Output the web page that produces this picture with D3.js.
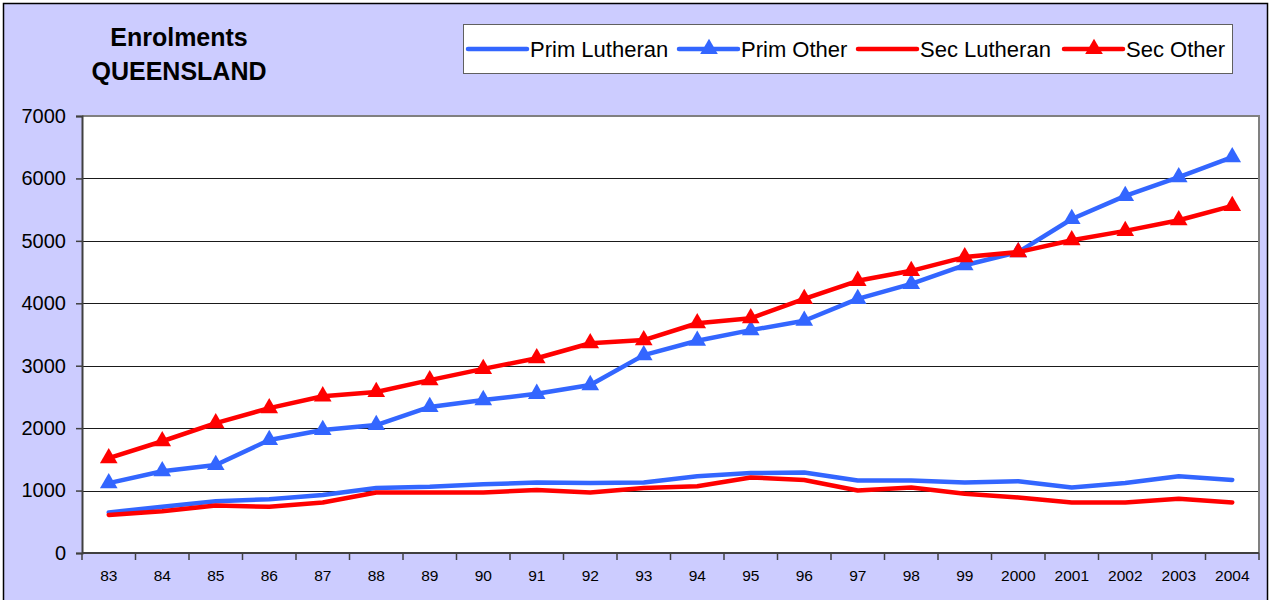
<!DOCTYPE html>
<html>
<head>
<meta charset="utf-8">
<script src="https://cdn.jsdelivr.net/npm/d3@7"></script>
<style>
  body { margin: 0; background: #fff; }
  svg text { font-family: "Liberation Sans", Arial, sans-serif; fill: #000; }
</style>
</head>
<body>
<svg id="chart" width="1270" height="600"></svg>
<script>
// enrolment data
const years = ["83", "84", "85", "86", "87", "88", "89", "90", "91", "92", "93",
               "94", "95", "96", "97", "98", "99", "2000", "2001", "2002", "2003", "2004"];
const primLutheran = [650, 740, 830, 860, 930, 1040, 1060, 1100, 1130, 1120, 1130,
                      1230, 1280, 1290, 1160, 1160, 1130, 1150, 1050, 1120, 1230, 1170];
const primOther = [1120, 1310, 1410, 1810, 1970, 2050, 2340, 2450, 2550, 2690, 3170,
                   3400, 3570, 3720, 4070, 4310, 4610, 4820, 5350, 5720, 6020, 6340];
const secLutheran = [610, 670, 760, 740, 810, 970, 970, 970, 1010, 970, 1040,
                     1070, 1210, 1170, 1000, 1050, 950, 890, 810, 810, 870, 810];
const secOther = [1520, 1790, 2080, 2320, 2510, 2580, 2770, 2950, 3120, 3360, 3410,
                  3680, 3760, 4070, 4360, 4520, 4740, 4820, 5010, 5160, 5330, 5560];
const yTicks = [0, 1000, 2000, 3000, 4000, 5000, 6000, 7000];
const titleLines = ["Enrolments", "QUEENSLAND"];

const BLUE = "#3366FF", RED = "#FF0000";

const seriesList = [
  { name: "Prim Lutheran", values: primLutheran, color: BLUE, marker: false },
  { name: "Prim Other", values: primOther, color: BLUE, marker: true },
  { name: "Sec Lutheran", values: secLutheran, color: RED, marker: false },
  { name: "Sec Other", values: secOther, color: RED, marker: true }
];

const svg = d3.select("#chart");

// chart background + outer border
svg.append("rect")
  .attr("x", 3.5).attr("y", 3.5)
  .attr("width", 1264).attr("height", 640)
  .attr("fill", "#CCCCFF")
  .attr("stroke", "#000")
  .attr("stroke-width", 1.5);

const plot = { left: 82, right: 1259, top: 116, bottom: 553 };

const x = d3.scaleBand().domain(years).range([plot.left, plot.right]).padding(0);
const y = d3.scaleLinear().domain([0, 7000]).range([plot.bottom, plot.top]);
const cx = d => x(d) + x.bandwidth() / 2;

// plot area
svg.append("rect")
  .attr("x", plot.left).attr("y", plot.top)
  .attr("width", plot.right - plot.left).attr("height", plot.bottom - plot.top)
  .attr("fill", "#fff");

// gridlines
svg.append("g")
  .selectAll("line")
  .data(yTicks.filter(t => t > 0 && t < 7000))
  .join("line")
  .attr("x1", plot.left).attr("x2", plot.right)
  .attr("y1", d => Math.round(y(d)) + 0.5).attr("y2", d => Math.round(y(d)) + 0.5)
  .attr("stroke", "#1a1a1a")
  .attr("stroke-width", 1);

// top/right frame (grey)
svg.append("path")
  .attr("d", `M${plot.left},${plot.top} H${plot.right} V${plot.bottom}`)
  .attr("fill", "none")
  .attr("stroke", "#808080")
  .attr("stroke-width", 2);

// y axis
const yAxis = svg.append("g")
  .attr("transform", `translate(${plot.left},0)`)
  .call(d3.axisLeft(y).tickValues(yTicks).tickSize(6).tickPadding(10).tickFormat(d3.format("d")));
yAxis.select(".domain").attr("stroke", "#404040").attr("stroke-width", 2);
yAxis.selectAll(".tick line").attr("stroke", "#404040").attr("stroke-width", 1.5);
yAxis.selectAll(".tick text")
  .style("font-size", "20px")
  .style("font-family", "'Liberation Sans', Arial, sans-serif")
  .attr("fill", "#000");

// x axis: labels centred, ticks between categories
const xAxis = svg.append("g")
  .attr("transform", `translate(0,${plot.bottom})`)
  .call(d3.axisBottom(x).tickSize(0).tickPadding(17));
xAxis.select(".domain").remove();
xAxis.selectAll(".tick text")
  .style("font-size", "15.5px")
  .style("font-family", "'Liberation Sans', Arial, sans-serif")
  .attr("fill", "#000");

svg.append("line")
  .attr("x1", plot.left).attr("x2", plot.right)
  .attr("y1", plot.bottom).attr("y2", plot.bottom)
  .attr("stroke", "#404040").attr("stroke-width", 2);

svg.append("g")
  .selectAll("line")
  .data(years.map(d => x(d)).concat([plot.right]))
  .join("line")
  .attr("x1", d => d).attr("x2", d => d)
  .attr("y1", plot.bottom).attr("y2", plot.bottom + 7)
  .attr("stroke", "#404040").attr("stroke-width", 1.5);

// series
const line = d3.line()
  .x((d, i) => cx(years[i]))
  .y(d => y(d));

const triangle = d3.symbol().type(d3.symbolTriangle).size(135);

seriesList.forEach(s => {
  svg.append("path")
    .datum(s.values)
    .attr("fill", "none")
    .attr("stroke", s.color)
    .attr("stroke-width", 4.5)
    .attr("stroke-linejoin", "round")
    .attr("stroke-linecap", "round")
    .attr("d", line);

  if (s.marker) {
    svg.append("g")
      .selectAll("path")
      .data(s.values)
      .join("path")
      .attr("d", triangle)
      .attr("transform", (d, i) => `translate(${cx(years[i])},${y(d)})`)
      .attr("fill", s.color);
  }
});

// title
svg.append("g")
  .selectAll("text")
  .data(titleLines)
  .join("text")
  .attr("x", 179)
  .attr("y", (d, i) => 46 + i * 34)
  .attr("text-anchor", "middle")
  .style("font-size", "25px")
  .style("font-weight", "bold")
  .text(d => d);

// legend
const legend = svg.append("g");
legend.append("rect")
  .attr("x", 463.5).attr("y", 24.5)
  .attr("width", 769).attr("height", 49)
  .attr("fill", "#fff")
  .attr("stroke", "#606060")
  .attr("stroke-width", 1);

const legendX = [468, 679, 858, 1064];
seriesList.forEach((s, i) => {
  const lx = legendX[i];
  const g = legend.append("g").attr("transform", `translate(${lx},49)`);
  g.append("line")
    .attr("x1", 0).attr("x2", 59)
    .attr("y1", 0).attr("y2", 0)
    .attr("stroke", s.color)
    .attr("stroke-width", 4.5)
    .attr("stroke-linecap", "round");
  if (s.marker) {
    g.append("path")
      .attr("d", triangle)
      .attr("transform", "translate(30,0)")
      .attr("fill", s.color);
  }
  g.append("text")
    .attr("x", 62)
    .attr("y", 8)
    .style("font-size", "22px")
    .text(s.name);
});
</script>
</body>
</html>
